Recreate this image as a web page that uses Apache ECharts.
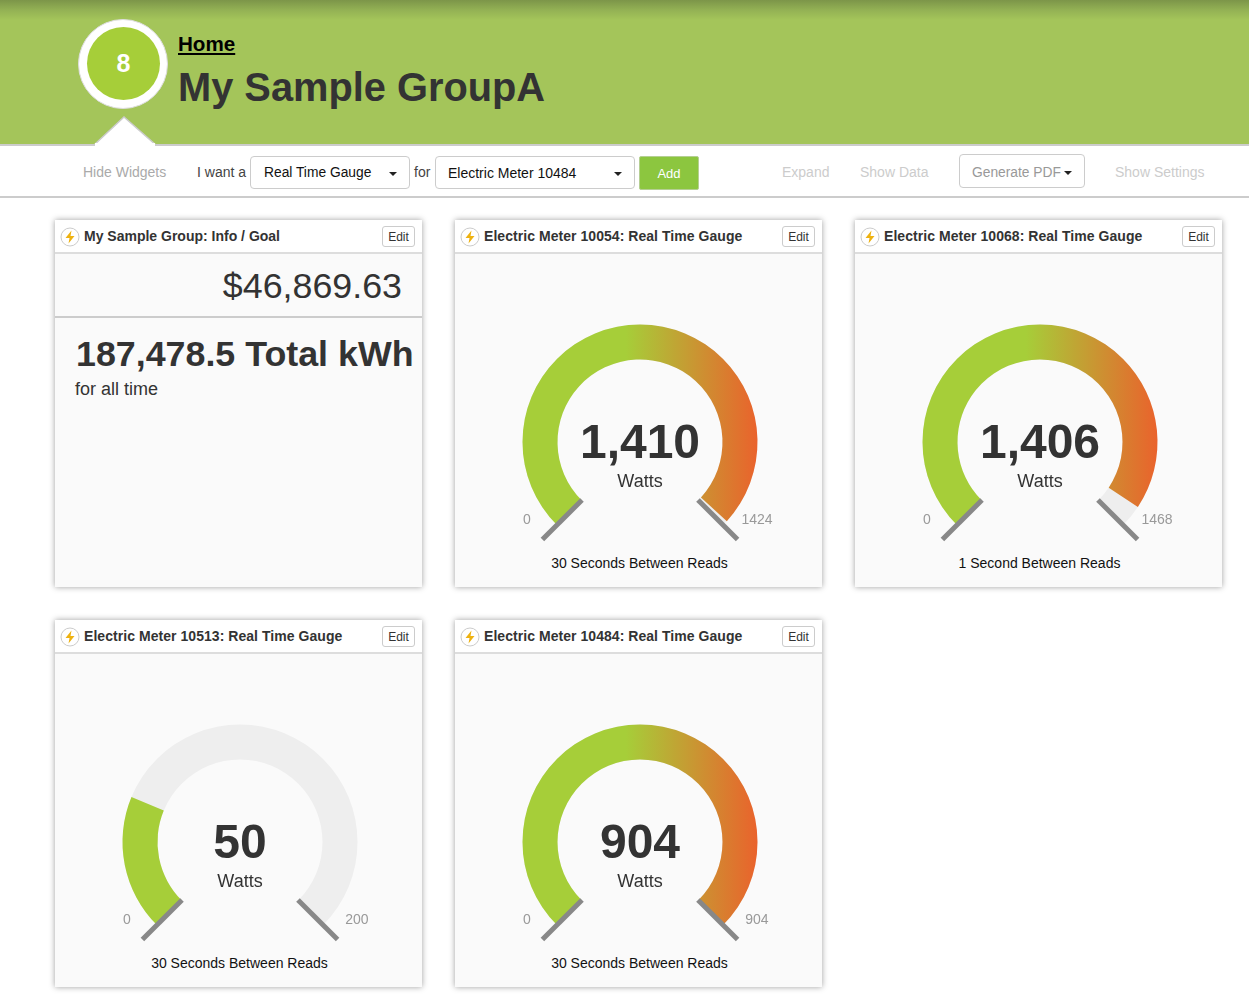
<!DOCTYPE html>
<html>
<head>
<meta charset="utf-8">
<title>My Sample GroupA</title>
<script src="https://cdn.jsdelivr.net/npm/echarts@6/dist/echarts.min.js"></script>
<style>
html, body { margin: 0; padding: 0; width: 1249px; height: 999px; overflow: hidden; background: #fff; }
body { position: relative; font-family: "Liberation Sans", Arial, sans-serif; color: #333; }
.abs, .t { position: absolute; white-space: nowrap; }
.t { line-height: 20px; height: 20px; font-size: 14px; }
#header { left: 0; top: 0; width: 1249px; height: 144px;
    background: linear-gradient(to bottom, #7c9549 0, #93b154 10px, #a4c55a 20px, #a4c55a 100%); }
#bar { left: 0; top: 144px; width: 1249px; height: 50px; background: #fff; border-top: 2px solid #ccc; border-bottom: 2px solid #ccc; }
#ring { left: 78px; top: 19px; width: 88px; height: 88px; border-radius: 50%; background: #fff; border: 1px solid #ddd; }
#dot { left: 87px; top: 27px; width: 73px; height: 73px; line-height: 73px; border-radius: 50%; background: #a6ce39; color: #fff; text-align: center; font-weight: bold; font-size: 25px; }
.box { box-sizing: border-box; border: 1px solid #ccc; border-radius: 4px; background: #fff; }
.caret { width: 0; height: 0; border-left: 4px solid transparent; border-right: 4px solid transparent; border-top: 4px solid #222; }
.card { box-sizing: border-box; width: 367px; height: 367px; background: #fafafa; box-shadow: 0 0 6px rgba(0,0,0,.38); }
.cardhead { left: 0; top: 0; width: 367px; height: 32px; background: #fff; border-bottom: 2px solid #ddd; }
.edit { left: 327px; top: 6px; width: 33px; height: 21px; line-height: 20px; text-align: center; font-size: 12px; color: #333; border-radius: 3px; }
.cardtitle { left: 29px; top: 6px; font-weight: bold; color: #333; }
.caption { left: 1px; width: 367px; top: 333px; text-align: center; color: #111; }
#chart { position: absolute; left: 0; top: 0; width: 1249px; height: 999px; pointer-events: none; }
</style>
</head>
<body>
<div class="abs" id="header"></div>
<svg class="abs" style="left:0;top:110px" width="240" height="40"><polygon points="93,36 124,7 157,36" fill="#fff" stroke="#ccc" stroke-width="1.5"/></svg>
<div class="abs" id="bar"></div>
<svg class="abs" style="left:90px;top:143px" width="70" height="6"><rect x="5" y="0" width="60" height="6" fill="#fff"/></svg>
<div class="abs" id="ring"></div>
<div class="abs" id="dot">8</div>
<div class="t" style="left:178px;top:32px;font-size:20.6px;line-height:24px;height:24px;font-weight:bold;color:#000;text-decoration:underline">Home</div>
<div class="t" style="left:178px;top:62px;font-size:39.8px;line-height:50px;height:50px;font-weight:bold;color:#333">My Sample GroupA</div>

<div class="t" style="left:83px;top:162px;color:#aaa">Hide Widgets</div>
<div class="t" style="left:197px;top:162px;color:#444">I want a</div>
<div class="abs box" style="left:250px;top:156px;width:160px;height:33px"></div>
<div class="t" style="left:264px;top:163px;color:#111;font-size:13.8px">Real Time Gauge</div>
<div class="abs caret" style="left:389px;top:172px"></div>
<div class="t" style="left:414px;top:162px;color:#444">for</div>
<div class="abs box" style="left:435px;top:156px;width:200px;height:33px"></div>
<div class="t" style="left:448px;top:163px;color:#111">Electric Meter 10484</div>
<div class="abs caret" style="left:614px;top:172px"></div>
<div class="abs" style="left:639px;top:156px;width:60px;height:34px;line-height:34px;box-sizing:border-box;border:1px solid #b5cf93;background:#8cc63f;color:#fff;font-size:13px;text-align:center;border-radius:2px">Add</div>
<div class="t" style="left:782px;top:162px;color:#ccc">Expand</div>
<div class="t" style="left:860px;top:162px;color:#ccc">Show Data</div>
<div class="abs box" style="left:959px;top:154px;width:126px;height:34px"></div>
<div class="t" style="left:972px;top:162.5px;color:#999;font-size:13.8px">Generate PDF</div>
<div class="abs caret" style="left:1064px;top:171px"></div>
<div class="t" style="left:1115px;top:162px;color:#ccc">Show Settings</div>

<div id="cards"></div>
<div id="chart"></div>

<script>
// meter readings, one entry per gauge
var meterNames = ['10054', '10068', '10513', '10484'];
var meterValues = [1410, 1406, 50, 904];
var meterMax = [1424, 1468, 200, 904];
var meterMin = [0, 0, 0, 0];
var readNotes = ['30 Seconds Between Reads', '1 Second Between Reads', '30 Seconds Between Reads', '30 Seconds Between Reads'];
var unitName = 'Watts';

var infoTitle = 'My Sample Group: Info / Goal';
var infoMoney = '$46,869.63';
var infoTotal = '187,478.5 Total kWh';
var infoNote = 'for all time';

// card slots: first one holds the info card
var cardLeft = [55, 455, 855, 55, 455];
var cardTop = [220, 220, 220, 620, 620];

function cardHtml(left, top, title, inner, spacing) {
    return '<div class="abs card" style="left:' + left + 'px;top:' + top + 'px">' +
        '<div class="abs cardhead"></div>' +
        '<svg class="abs" style="left:5px;top:7px" width="20" height="20">' +
        '<circle cx="10" cy="10" r="9" fill="#fff" stroke="#ccc"/>' +
        '<polygon points="11.5,3.5 5.5,11 9.5,11 8.5,16.5 14.5,9 10.5,9" fill="#eeb211"/></svg>' +
        '<div class="t cardtitle" style="letter-spacing:' + spacing + 'px">' + title + '</div>' +
        '<div class="abs box edit">Edit</div>' + inner + '</div>';
}

var html = cardHtml(cardLeft[0], cardTop[0], infoTitle,
    '<div class="abs" style="right:20px;top:43px;font-size:35.8px;line-height:46px;color:#333">' + infoMoney + '</div>' +
    '<div class="abs" style="left:0;top:96px;width:367px;height:2px;background:#ccc"></div>' +
    '<div class="abs" style="left:21px;top:111px;font-size:35.8px;line-height:46px;font-weight:bold;color:#333;white-space:nowrap">' + infoTotal + '</div>' +
    '<div class="abs" style="left:20px;top:158px;font-size:18px;line-height:22px;color:#333;white-space:nowrap">' + infoNote + '</div>', 0);
meterNames.forEach(function (name, i) {
    html += cardHtml(cardLeft[i + 1], cardTop[i + 1], 'Electric Meter ' + name + ': Real Time Gauge',
        '<div class="t caption">' + readNotes[i] + '</div>', 0.05);
});
document.getElementById('cards').innerHTML = html;

var myChart = echarts.init(document.getElementById('chart'));
var series = [];
var graphic = [];

meterNames.forEach(function (name, i) {
    var cx = cardLeft[i + 1] + 185;
    var cy = cardTop[i + 1] + 222;
    series.push({
        type: 'gauge',
        center: [cx, cy],
        radius: 117.5,
        startAngle: 225,
        endAngle: -45,
        min: meterMin[i],
        max: meterMax[i],
        splitNumber: 1,
        silent: true,
        axisLine: { lineStyle: { width: 35, color: [[1, '#eeeeee']] } },
        progress: {
            show: true,
            width: 35,
            itemStyle: {
                color: {
                    type: 'linear', global: true,
                    x: cx - 118, y: 0, x2: cx + 118, y2: 0,
                    colorStops: [
                        { offset: 0, color: '#a6ce39' },
                        { offset: 0.44, color: '#a6ce39' },
                        { offset: 1, color: '#ea622c' }
                    ]
                }
            }
        },
        pointer: { show: false },
        anchor: { show: false },
        axisTick: { show: false },
        axisLabel: { show: false },
        splitLine: { show: false },
        title: {
            offsetCenter: [0, 40],
            fontSize: 18,
            color: '#333',
            fontFamily: 'Liberation Sans'
        },
        detail: {
            offsetCenter: [0, 3],
            fontSize: 48,
            fontWeight: 'bold',
            color: '#333',
            fontFamily: 'Liberation Sans',
            formatter: function (v) { return v.toLocaleString('en-US'); }
        },
        data: [{ value: meterValues[i], name: unitName }]
    });
    // second gauge on top, only for the grey end marks
    series.push({
        type: 'gauge',
        z: 5,
        center: [cx, cy],
        radius: 117.5,
        startAngle: 225,
        endAngle: -45,
        min: meterMin[i],
        max: meterMax[i],
        splitNumber: 1,
        silent: true,
        axisLine: { show: false, lineStyle: { width: 35 } },
        pointer: { show: false },
        anchor: { show: false },
        axisTick: { show: false },
        axisLabel: { show: false },
        title: { show: false },
        detail: { show: false },
        splitLine: { length: 56, distance: -55.5, lineStyle: { width: 5, color: '#888888', cap: 'butt' } },
        data: [{ value: meterValues[i] }]
    });
    graphic.push({
        type: 'text', left: cx - 117, top: cy + 71,
        style: { text: String(meterMin[i]), font: '14px "Liberation Sans"', fill: '#999' }
    });
    graphic.push({
        type: 'text', left: cx + 117 - String(meterMax[i]).length * 3.9, top: cy + 71,
        style: { text: String(meterMax[i]), font: '14px "Liberation Sans"', fill: '#999' }
    });
});

myChart.setOption({ animation: false, graphic: graphic, series: series });
</script>
</body>
</html>
